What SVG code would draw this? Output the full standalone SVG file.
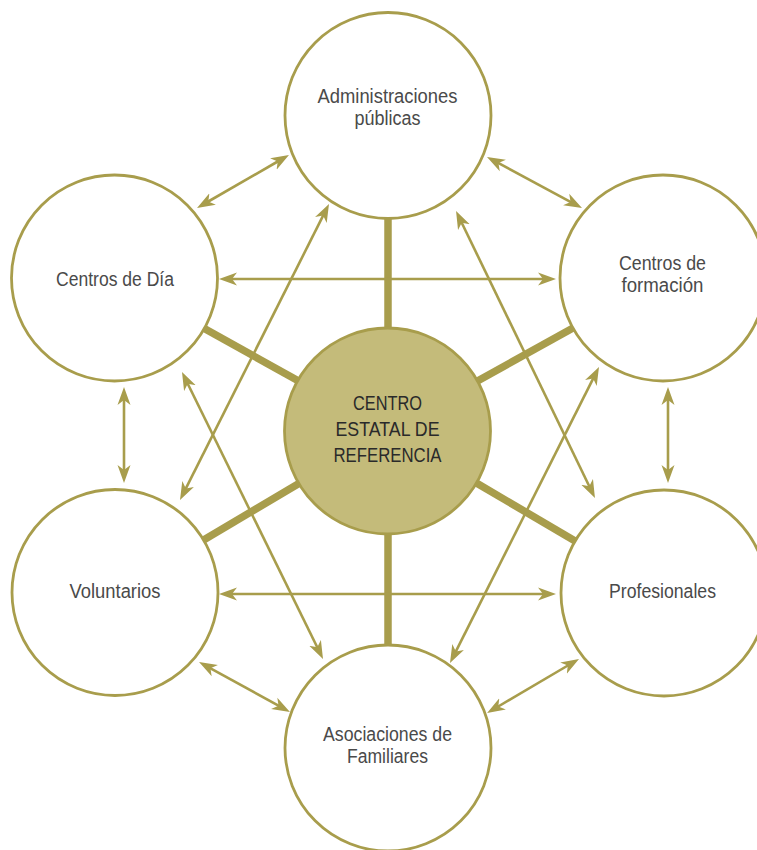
<svg xmlns="http://www.w3.org/2000/svg" width="757" height="850" viewBox="0 0 757 850">
<defs>
<style>
.node{fill:#ffffff;stroke:#a89d4c;stroke-width:2.8}
.core{fill:#c4bb7a;stroke:#a89d4c;stroke-width:2.8}
.lbl{font-family:"Liberation Sans",Arial,sans-serif;font-size:20px;fill:#4a4a4a;text-anchor:middle}
.clbl{font-family:"Liberation Sans",Arial,sans-serif;font-size:21px;fill:#2a2a2a;text-anchor:middle}
.spoke{stroke:#a89d4c;stroke-width:7.5;fill:none}
.arr{stroke:#a89d4c;stroke-width:2.6;fill:none;marker-start:url(#ah);marker-end:url(#ah)}
</style>
<marker id="ah" markerUnits="userSpaceOnUse" viewBox="0 -7 19 14" refX="8" refY="0" markerWidth="19" markerHeight="14" orient="auto-start-reverse">
<path d="M18,0 L0,-6.5 L5,0 L0,6.5 Z" fill="#a89d4c"/>
</marker>
</defs>
<g id="connectors">
<line class="spoke" x1="388" y1="218" x2="388" y2="329"/>
<line class="spoke" x1="388" y1="533" x2="388" y2="646"/>
<line class="spoke" x1="297.7" y1="380.6" x2="204.3" y2="328.4"/>
<line class="spoke" x1="477.5" y1="381" x2="573" y2="328"/>
<line class="spoke" x1="298.9" y1="483.5" x2="203.6" y2="540"/>
<line class="spoke" x1="476.4" y1="483" x2="575.1" y2="541"/>
<line class="arr" x1="205.7" y1="203" x2="280.3" y2="160"/>
<line class="arr" x1="495.8" y1="161.7" x2="573.2" y2="203.3"/>
<line class="arr" x1="229" y1="279" x2="546" y2="279"/>
<line class="arr" x1="229" y1="594" x2="546" y2="594"/>
<line class="arr" x1="124" y1="397" x2="124" y2="473"/>
<line class="arr" x1="668" y1="397" x2="668" y2="473"/>
<line class="arr" x1="207.8" y1="666.8" x2="281.2" y2="707.2"/>
<line class="arr" x1="570.4" y1="664" x2="495.7" y2="708"/>
<line class="arr" x1="324.5" y1="212.9" x2="184.5" y2="491.1"/>
<line class="arr" x1="460.4" y1="220" x2="590.6" y2="489"/>
<line class="arr" x1="186.4" y1="381" x2="318.6" y2="650"/>
<line class="arr" x1="594.5" y1="375.9" x2="454.5" y2="654.1"/>
</g>
<g id="centro">
<circle class="core" cx="387.5" cy="431" r="103"/>
<text class="clbl" x="387.5" y="409.5" textLength="69" lengthAdjust="spacingAndGlyphs">CENTRO</text>
<text class="clbl" x="387.5" y="436" textLength="104" lengthAdjust="spacingAndGlyphs">ESTATAL DE</text>
<text class="clbl" x="387.5" y="462" textLength="108" lengthAdjust="spacingAndGlyphs">REFERENCIA</text>
</g>
<g id="administraciones">
<circle class="node" cx="388" cy="115.5" r="103"/>
<text class="lbl" x="387.5" y="103" textLength="140" lengthAdjust="spacingAndGlyphs">Administraciones</text>
<text class="lbl" x="387.5" y="125" textLength="66" lengthAdjust="spacingAndGlyphs">públicas</text>
</g>
<g id="centros-dia">
<circle class="node" cx="114.5" cy="278" r="103"/>
<text class="lbl" x="115" y="286" textLength="118" lengthAdjust="spacingAndGlyphs">Centros de Día</text>
</g>
<g id="centros-formacion">
<circle class="node" cx="663" cy="278" r="103"/>
<text class="lbl" x="662.5" y="270" textLength="87" lengthAdjust="spacingAndGlyphs">Centros de</text>
<text class="lbl" x="662.5" y="292" textLength="82" lengthAdjust="spacingAndGlyphs">formación</text>
</g>
<g id="voluntarios">
<circle class="node" cx="115" cy="592.5" r="103"/>
<text class="lbl" x="115" y="598" textLength="91" lengthAdjust="spacingAndGlyphs">Voluntarios</text>
</g>
<g id="profesionales">
<circle class="node" cx="664" cy="593" r="103"/>
<text class="lbl" x="662.5" y="598" textLength="107" lengthAdjust="spacingAndGlyphs">Profesionales</text>
</g>
<g id="asociaciones">
<circle class="node" cx="388" cy="748" r="103"/>
<text class="lbl" x="387.5" y="741" textLength="129" lengthAdjust="spacingAndGlyphs">Asociaciones de</text>
<text class="lbl" x="387.5" y="763" textLength="81" lengthAdjust="spacingAndGlyphs">Familiares</text>
</g>
</svg>
